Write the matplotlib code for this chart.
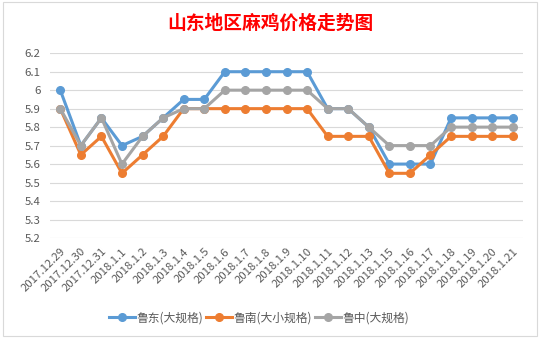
import matplotlib
matplotlib.use("Agg")
import matplotlib.pyplot as plt
from matplotlib.patches import Rectangle

plt.rcParams['font.family'] = ['Noto Sans CJK SC', 'DejaVu Sans']

dates = ["2017.12.29", "2017.12.30", "2017.12.31", "2018.1.1", "2018.1.2", "2018.1.3",
         "2018.1.4", "2018.1.5", "2018.1.6", "2018.1.7", "2018.1.8", "2018.1.9",
         "2018.1.10", "2018.1.11", "2018.1.12", "2018.1.13", "2018.1.15", "2018.1.16",
         "2018.1.17", "2018.1.18", "2018.1.19", "2018.1.20", "2018.1.21"]
ludong = [6.0, 5.7, 5.85, 5.7, 5.75, 5.85, 5.95, 5.95, 6.1, 6.1, 6.1, 6.1, 6.1,
          5.9, 5.9, 5.8, 5.6, 5.6, 5.6, 5.85, 5.85, 5.85, 5.85]
lunan = [5.9, 5.65, 5.75, 5.55, 5.65, 5.75, 5.9, 5.9, 5.9, 5.9, 5.9, 5.9, 5.9,
         5.75, 5.75, 5.75, 5.55, 5.55, 5.65, 5.75, 5.75, 5.75, 5.75]
luzhong = [5.9, 5.7, 5.85, 5.6, 5.75, 5.85, 5.9, 5.9, 6.0, 6.0, 6.0, 6.0, 6.0,
           5.9, 5.9, 5.8, 5.7, 5.7, 5.7, 5.8, 5.8, 5.8, 5.8]
series_names = ["鲁东(大规格)", "鲁南(大小规格)", "鲁中(大规格)"]
yticks = [5.2, 5.3, 5.4, 5.5, 5.6, 5.7, 5.8, 5.9, 6.0, 6.1, 6.2]
ytick_labels = ["5.2", "5.3", "5.4", "5.5", "5.6", "5.7", "5.8", "5.9", "6", "6.1", "6.2"]
title = "山东地区麻鸡价格走势图"

colors = ["#5B9BD5", "#ED7D31", "#A5A5A5"]

fig = plt.figure(figsize=(5.4, 3.39), dpi=100)
fig.patches.append(Rectangle((0.006, 0.008), 0.988, 0.985, transform=fig.transFigure,
                             fill=False, edgecolor="#D9D9D9", linewidth=0.8))

ax = fig.add_axes([0.0926, 0.298, 0.876, 0.545])
x = list(range(len(dates)))
for vals, name, c in zip([ludong, lunan, luzhong], series_names, colors):
    ax.plot(x, vals, color=c, linewidth=2.2, marker='o', markersize=5.5, label=name,
            solid_joinstyle='round')

ax.set_xlim(-0.5, len(dates) - 0.5)
ax.set_ylim(5.2, 6.2)
ax.set_yticks(yticks)
ax.set_yticklabels(ytick_labels)
ax.set_xticks(x)
ax.set_xticklabels(dates, rotation=45, ha='right', rotation_mode='anchor')
ax.tick_params(axis='both', length=0, colors="#595959", labelsize=8.2)
ax.tick_params(axis='y', pad=7)
ax.tick_params(axis='x', pad=6)
ax.grid(axis='y', color="#D9D9D9", linewidth=0.8)
ax.set_axisbelow(True)
for s in ax.spines.values():
    s.set_visible(False)

fig.text(0.5, 0.932, title, ha='center', va='center', color="#FF0000",
         fontsize=13.5, fontweight='bold')

leg = fig.legend(loc='center', bbox_to_anchor=(0.48, 0.062), ncol=3, frameon=False,
                 fontsize=8.5, handlelength=2.2, columnspacing=0.2, handletextpad=0.15,
                 labelcolor="#595959")

fig.savefig("out.png", dpi=100)
